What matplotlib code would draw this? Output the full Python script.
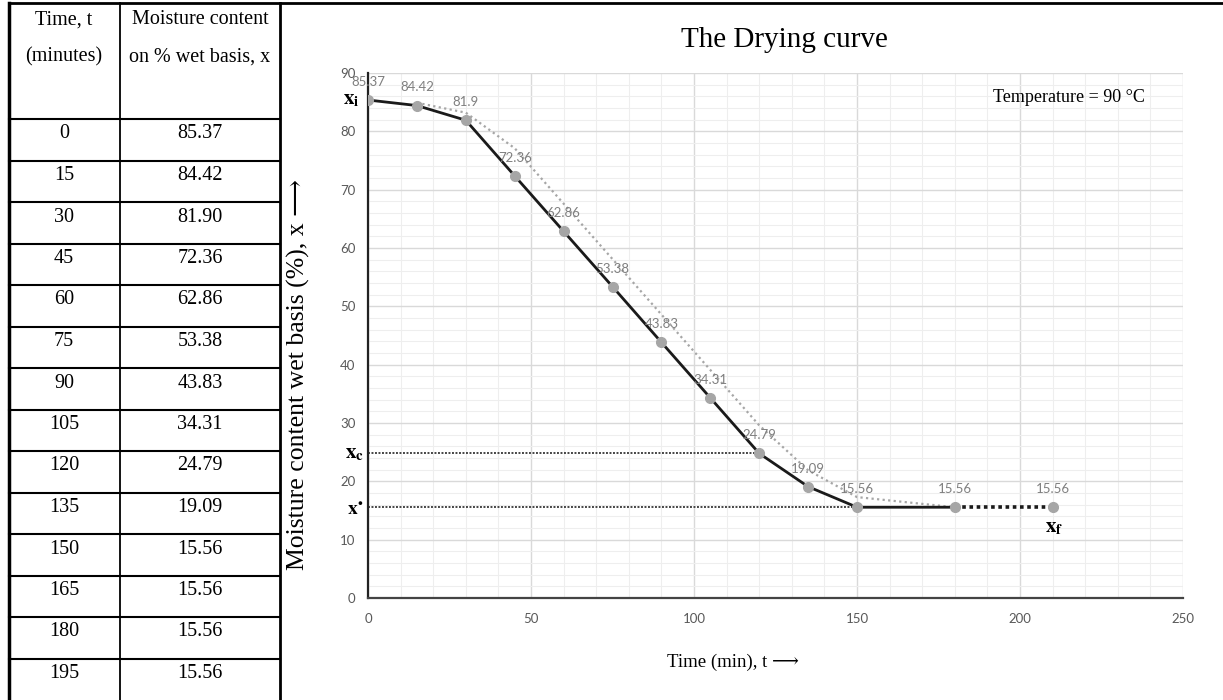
import matplotlib
matplotlib.use("Agg")
import matplotlib.pyplot as plt
from matplotlib.ticker import MultipleLocator

# table on the left
table_times = [0, 15, 30, 45, 60, 75, 90, 105, 120, 135, 150, 165, 180, 195]
table_moisture = [85.37, 84.42, 81.90, 72.36, 62.86, 53.38, 43.83, 34.31,
                  24.79, 19.09, 15.56, 15.56, 15.56, 15.56]

# points plotted in the chart
chart_times = [0, 15, 30, 45, 60, 75, 90, 105, 120, 135, 150, 180, 210]
chart_moisture = [85.37, 84.42, 81.9, 72.36, 62.86, 53.38, 43.83, 34.31,
                  24.79, 19.09, 15.56, 15.56, 15.56]

# grey dotted trend line
trend_times = [15, 30, 45, 60, 75, 90, 105, 120, 135, 150, 180]
trend_moisture = [84.9, 83.2, 77.1, 67.6, 58.1, 48.6, 39.1, 29.6, 21.9, 17.3, 15.56]

x_crit = 24.79
x_eq = 15.56

serif = ["Liberation Serif", "DejaVu Serif"]
plt.rcParams["mathtext.fontset"] = "stix"

W, H = 1223, 700
fig = plt.figure(figsize=(W / 100, H / 100), dpi=100)

# overlay in pixel coordinates for the table and frame
ov = fig.add_axes([0, 0, 1, 1])
ov.set_xlim(0, W)
ov.set_ylim(H, 0)
ov.axis("off")

ov.plot([9, W], [3, 3], color="black", lw=2)
ov.plot([9, 9], [3, H], color="black", lw=2.5)
ov.plot([120, 120], [3, H], color="black", lw=1.3)
ov.plot([280, 280], [3, H], color="black", lw=2)

head_bottom = 119
row_h = (H - head_bottom) / len(table_times)
ov.plot([9, 280], [head_bottom, head_bottom], color="black", lw=1.5)
for i in range(1, len(table_times)):
    yy = head_bottom + i * row_h
    ov.plot([9, 280], [yy, yy], color="black", lw=1.5)

fs_tab = 14.5
ov.text(64, 20, "Time, t", ha="center", va="center", fontsize=fs_tab, family=serif)
ov.text(64, 57, "(minutes)", ha="center", va="center", fontsize=fs_tab, family=serif)
ov.text(200, 20, "Moisture content", ha="center", va="center", fontsize=fs_tab, family=serif)
ov.text(200, 57, "on % wet basis, x", ha="center", va="center", fontsize=fs_tab, family=serif)
for i, (t, m) in enumerate(zip(table_times, table_moisture)):
    yy = head_bottom + i * row_h + 15
    ov.text(64, yy, str(t), ha="center", va="center", fontsize=fs_tab, family=serif)
    ov.text(200, yy, "%.2f" % m, ha="center", va="center", fontsize=fs_tab, family=serif)

# chart
ax = fig.add_axes([368 / W, 102 / H, 815 / W, 525 / H])
ax.patch.set_alpha(0)
ax.set_xlim(0, 250)
ax.set_ylim(0, 90)
ax.xaxis.set_major_locator(MultipleLocator(50))
ax.xaxis.set_minor_locator(MultipleLocator(10))
ax.yaxis.set_major_locator(MultipleLocator(10))
ax.yaxis.set_minor_locator(MultipleLocator(2))
ax.grid(which="major", color="#d9d9d9", lw=1.0)
ax.grid(which="minor", color="#eeeeee", lw=0.8)
ax.set_axisbelow(True)
for s in ["top", "right"]:
    ax.spines[s].set_visible(False)
ax.spines["left"].set_color("#222222")
ax.spines["left"].set_linewidth(1.6)
ax.spines["bottom"].set_color("#444444")
ax.spines["bottom"].set_linewidth(1.6)
ax.tick_params(which="both", length=0, labelcolor="#595959", labelsize=9.5)
ax.tick_params(axis="y", pad=9)
ax.tick_params(axis="x", pad=11)
for lab in ax.get_xticklabels() + ax.get_yticklabels():
    lab.set_family("Lato")

# reference lines x_c and x*
ax.plot([0, chart_times[8]], [x_crit, x_crit], color="#444444", lw=1.4,
        ls=(0, (1, 0.8)), zorder=2)
ax.plot([0, chart_times[10]], [x_eq, x_eq], color="#444444", lw=1.4,
        ls=(0, (1, 0.8)), zorder=2)

# trend line
ax.plot(trend_times, trend_moisture, color="#a6a6a6", lw=1.6, ls=(0, (1, 1.5)), zorder=2)

# main curve
ax.plot(chart_times[:12], chart_moisture[:12], color="#1a1a1a", lw=2, zorder=3)
ax.plot(chart_times[11:], chart_moisture[11:], color="#1a1a1a", lw=2.6,
        ls=(0, (1, 1)), zorder=3)
ax.plot(chart_times, chart_moisture, "o", color="#a6a6a6", ms=7, zorder=4)

for t, m in zip(chart_times, chart_moisture):
    ax.annotate("%g" % m, (t, m), xytext=(0, 13), textcoords="offset points",
                ha="center", va="center", fontsize=9.5, color="#7f7f7f", family="Lato")

# special labels
ax.text(-5.2, 85.6, r"$\mathbf{x}_\mathbf{i}$", ha="center", va="center",
        fontsize=15, clip_on=False)
ax.text(-4.0, 24.9, r"$\mathbf{x}_\mathbf{c}$", ha="center", va="center",
        fontsize=15, clip_on=False)
ax.text(-4.0, 15.0, r"$\mathbf{x}^{\bullet}$", ha="center", va="center",
        fontsize=14, clip_on=False)
ax.text(210.5, 12.2, r"$\mathbf{x}_\mathbf{f}$", ha="center", va="center",
        fontsize=15)

fig.text(784 / W, 1 - 40 / H, "The Drying curve", ha="center", va="center",
         fontsize=21, family=serif)
fig.text(1145 / W, 1 - 97 / H, "Temperature = 90 °C", ha="right", va="center",
         fontsize=13, family=serif)
fig.text(298 / W, 1 - 374 / H, "Moisture content wet basis (%), x ⟶", rotation=90,
         ha="center", va="center", fontsize=18.5, family=serif)
fig.text(733 / W, 1 - 662 / H, "Time (min), t ⟶", ha="center", va="center",
         fontsize=13.5, family=serif)

fig.savefig("out.png", dpi=100)
